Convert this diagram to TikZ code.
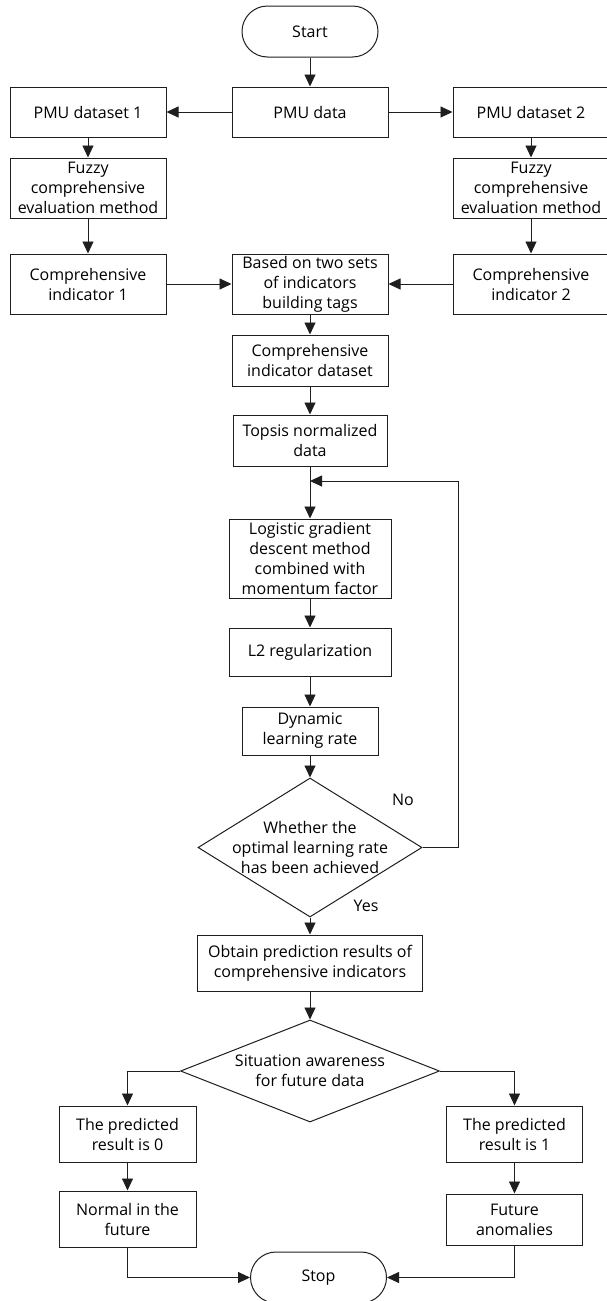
\documentclass[tikz,border=0pt]{standalone}
\usepackage{fontspec}
\setmainfont{Open Sans}
\usetikzlibrary{arrows.meta,shapes.geometric,shapes.misc}
\definecolor{fcInk}{HTML}{000000}
\definecolor{fcLine}{HTML}{1E1E1E}
\newcommand{\FCType}{\fontsize{16}{20}\selectfont}
\tikzset{fc/base/.style={x=1pt,y=-1pt,line cap=butt,line join=miter,
  every node/.style={font=\FCType,inner sep=0pt,text=fcInk}},
  fc/arrow/.style={-{Triangle[length=12pt,width=11pt]},draw=fcLine,line width=.9pt},
  fc/box/.style={draw=fcLine,fill=white,line width=1pt,minimum width=156pt,
    minimum height=50pt,align=center},
  fc/term/.style={rounded rectangle,draw=fcLine,fill=white,line width=1pt,
    minimum width=136pt,minimum height=51pt},
  fc/dec/.style={diamond,draw=fcLine,fill=white,line width=1pt}}

\begin{document}
\begin{tikzpicture}[fc/base]
  \useasboundingbox (0,0) rectangle (607,1301);
  % Data preparation: two PMU branches merged into one labelled dataset.
  \node[fc/term] (start) at (310,31.5) {Start};
  \node[fc/box] (pmu) at (310,112) {PMU data};
  \node[fc/box] (ds1) at (88,112) {PMU dataset 1};
  \node[fc/box] (ds2) at (531,112) {PMU dataset 2};
  \node[fc/box,minimum height=60pt] (fz1) at (88,188) {Fuzzy\\comprehensive\\evaluation method};
  \node[fc/box,minimum height=60pt] (fz2) at (531,188) {Fuzzy\\comprehensive\\evaluation method};
  \node[fc/box,minimum height=60pt] (ci1) at (88,284) {Comprehensive\\indicator 1};
  \node[fc/box,minimum height=60pt] (ci2) at (531,284) {Comprehensive\\indicator 2};
  \node[fc/box,minimum height=60pt] (tags) at (310,284) {Based on two sets\\of indicators\\building tags};
  \node[fc/box,minimum height=51pt] (cid) at (310,360.5) {Comprehensive\\indicator dataset};
  \node[fc/box,minimum width=154pt,minimum height=51pt] (tops) at (310,440.5) {Topsis normalized\\data};
  % Training loop.
  \node[fc/box,minimum width=162pt,minimum height=79pt] (logi) at (310,558.5)
    {Logistic gradient\\descent method\\combined with\\momentum factor};
  \node[fc/box,minimum width=162pt,minimum height=48pt] (l2) at (310,652) {L2 regularization};
  \node[fc/box,minimum width=136pt,minimum height=48pt] (dyn) at (310,731) {Dynamic\\learning rate};
  \node[fc/dec,minimum width=224pt,minimum height=139pt] (opt) at (310,847.5) {};
  \node[align=center] (optT) at (opt.center) {Whether the\\optimal learning rate\\has been achieved};
  \node (no) at (403,800) {No};
  \node (yes) at (366,906) {Yes};
  \coordinate (loopR) at (458,847.5);
  \coordinate (loopIn) at (310,481);
  % Prediction and outcome.
  \node[fc/box,minimum width=225pt,minimum height=56pt] (obt) at (310,963)
    {Obtain prediction results of\\comprehensive indicators};
  \node[fc/dec,minimum width=259pt,minimum height=102pt] (sit) at (310,1071) {};
  \node[align=center] (sitT) at (sit.center) {Situation awareness\\for future data};
  \node[fc/box,minimum width=137pt,minimum height=56pt] (pr0) at (127.5,1134) {The predicted\\result is 0};
  \node[fc/box,minimum width=136pt,minimum height=56pt] (pr1) at (514.5,1134) {The predicted\\result is 1};
  \node[fc/box,minimum width=137pt,minimum height=56pt] (norm) at (127.5,1219) {Normal in the\\future};
  \node[fc/box,minimum width=136pt,minimum height=51pt] (fut) at (514.5,1219.5) {Future\\anomalies};
  \node[fc/term] (stop) at (318.5,1277.5) {Stop};

  \draw[fc/arrow] (start) -- (pmu);
  \draw[fc/arrow] (pmu) -- (ds1);
  \draw[fc/arrow] (pmu) -- (ds2);
  \draw[fc/arrow] (ds1) -- (fz1);
  \draw[fc/arrow] (ds2) -- (fz2);
  \draw[fc/arrow] (fz1) -- (ci1);
  \draw[fc/arrow] (fz2) -- (ci2);
  \draw[fc/arrow] (ci1) -- (tags);
  \draw[fc/arrow] (ci2) -- (tags);
  \draw[fc/arrow] (tags) -- (cid);
  \draw[fc/arrow] (cid) -- (tops);
  \draw[fc/arrow] (tops) -- (logi);
  \draw[fc/arrow] (opt.east) -- (loopR) |- (loopIn);
  \draw[fc/arrow] (logi) -- (l2);
  \draw[fc/arrow] (l2) -- (dyn);
  \draw[fc/arrow] (dyn) -- (opt);
  \draw[fc/arrow] (opt) -- (obt);
  \draw[fc/arrow] (obt) -- (sit);
  \draw[fc/arrow] (sit.west) -| (pr0.north);
  \draw[fc/arrow] (sit.east) -| (pr1.north);
  \draw[fc/arrow] (pr0) -- (norm);
  \draw[fc/arrow] (pr1) -- (fut);
  \draw[fc/arrow] (norm.south) |- (stop.west);
  \draw[fc/arrow] (fut.south) |- (stop.east);
\end{tikzpicture}
\end{document}
